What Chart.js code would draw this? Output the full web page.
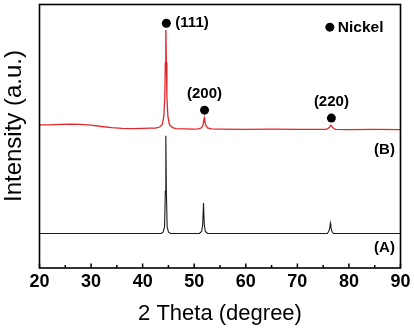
<!DOCTYPE html>
<html>
<head>
<meta charset="utf-8">
<script src="https://cdn.jsdelivr.net/npm/chart.js@4.4.1/dist/chart.umd.min.js"></script>
<style>
  html, body { margin: 0; padding: 0; background: #fff; }
  canvas { display: block; }
</style>
</head>
<body>
<canvas id="xrd" width="414" height="329"></canvas>
<script>
// XRD patterns of sample (B, red, offset upward) and sample (A, black)
const angleB = [20, 22, 24, 26, 28, 30, 32, 34, 36, 38, 40, 41.5, 42.5, 43.3, 43.8, 44.1, 44.3, 44.4, 44.5, 44.6, 44.7, 44.9, 45.2, 45.8, 46.5, 48, 50, 50.8, 51.4, 51.7, 51.85, 51.95, 52.05, 52.25, 52.6, 53.3, 55, 60, 65, 70, 74, 75.6, 76.0, 76.3, 76.5, 76.7, 77.0, 77.4, 80, 85, 90];
const intensityB = [543, 543, 545, 546, 545, 542, 537, 533, 530, 529, 530, 531, 531, 535, 544, 575, 650, 780, 903, 780, 650, 575, 544, 533, 529, 528, 527, 528, 532, 541, 558, 569, 558, 541, 532, 528, 527, 526, 527, 526, 526, 526, 530, 537, 542, 537, 530, 526, 525, 526, 525];

const angleA = [20, 30, 40, 43.6, 44.0, 44.25, 44.4, 44.5, 44.6, 44.75, 45.0, 45.4, 48, 51.0, 51.45, 51.65, 51.8, 51.95, 52.15, 52.6, 60, 70, 75.8, 76.1, 76.3, 76.4, 76.5, 76.7, 77.0, 90];
const intensityA = [131, 131, 131, 131, 137, 157, 292, 502, 292, 157, 137, 131, 131, 131, 139, 165, 247, 165, 139, 131, 131, 131, 131, 139, 154, 169, 154, 139, 131, 131];

// Nickel reflections: marker positions and Miller indices
const peakLabels = ['(111)', '(200)', '(220)'];
const peakAngles = [44.6, 52.0, 76.6];
const peakMarks = [929, 599, 569];

// legend marker
const legendAngle = 76.3;
const legendLevel = 914;
const legendText = 'Nickel';

const sampleLabels = ['(B)', '(A)'];
const sampleLevels = [448, 75];

const xTicks = [20, 30, 40, 50, 60, 70, 80, 90];

const toPoints = (xs, ys) => xs.map((x, i) => ({ x: x, y: ys[i] }));

const FONT = '"Liberation Sans", Arial, sans-serif';

const decorations = {
  id: 'decorations',
  afterDraw(chart) {
    const { ctx, chartArea: a, scales: { x, y } } = chart;
    ctx.save();

    // axis tick marks, pointing inward from the bottom axis
    ctx.strokeStyle = '#000';
    ctx.lineWidth = 1.5;
    ctx.beginPath();
    for (let v = xTicks[0]; v <= xTicks[xTicks.length - 1]; v += 5) {
      const px = x.getPixelForValue(v);
      const len = v % 10 === 0 ? 4.5 : 3;
      ctx.moveTo(px, a.bottom);
      ctx.lineTo(px, a.bottom - len);
    }
    ctx.stroke();

    // frame
    ctx.lineWidth = 1.6;
    ctx.strokeRect(a.left, a.top, a.right - a.left, a.bottom - a.top);

    ctx.fillStyle = '#000';
    ctx.textBaseline = 'middle';

    // Miller indices next to markers
    ctx.font = 'bold 15px ' + FONT;
    ctx.textAlign = 'left';
    ctx.fillText(peakLabels[0], x.getPixelForValue(peakAngles[0]) + 9, y.getPixelForValue(peakMarks[0]));
    ctx.textAlign = 'center';
    ctx.fillText(peakLabels[1], x.getPixelForValue(peakAngles[1]), y.getPixelForValue(peakMarks[1]) - 16);
    ctx.fillText(peakLabels[2], x.getPixelForValue(peakAngles[2]), y.getPixelForValue(peakMarks[2]) - 16);

    // legend text
    ctx.font = 'bold 15.5px ' + FONT;
    ctx.textAlign = 'left';
    ctx.fillText(legendText, x.getPixelForValue(legendAngle) + 8, y.getPixelForValue(legendLevel) + 1);

    // sample tags
    ctx.font = 'bold 15px ' + FONT;
    ctx.textAlign = 'center';
    ctx.fillText(sampleLabels[0], a.right - 16, y.getPixelForValue(sampleLevels[0]));
    ctx.fillText(sampleLabels[1], a.right - 16, y.getPixelForValue(sampleLevels[1]));

    // y axis title
    ctx.translate(14.5, 126);
    ctx.rotate(-Math.PI / 2);
    ctx.font = '24px ' + FONT;
    ctx.textAlign = 'center';
    ctx.fillText('Intensity (a.u.)', 0, 0);

    ctx.restore();
  }
};

new Chart(document.getElementById('xrd'), {
  type: 'scatter',
  data: {
    datasets: [
      {
        label: 'B',
        data: toPoints(angleB, intensityB),
        showLine: true,
        borderColor: '#e3262c',
        borderWidth: 1.3,
        pointRadius: 0,
        tension: 0
      },
      {
        label: 'A',
        data: toPoints(angleA, intensityA),
        showLine: true,
        borderColor: '#1c1c1c',
        borderWidth: 1.1,
        pointRadius: 0,
        tension: 0
      },
      {
        label: 'Nickel',
        data: toPoints(peakAngles.concat([legendAngle]), peakMarks.concat([legendLevel])),
        showLine: false,
        pointRadius: 4.5,
        pointBackgroundColor: '#000',
        pointBorderWidth: 0,
        clip: false
      }
    ]
  },
  options: {
    responsive: false,
    animation: false,
    devicePixelRatio: 1,
    layout: { padding: { left: 39.5, right: 11, top: 1, bottom: 0 } },
    plugins: {
      legend: { display: false },
      tooltip: { enabled: false }
    },
    scales: {
      x: {
        type: 'linear',
        min: 20,
        max: 90,
        afterFit: (s) => { s.height = 61; },
        afterBuildTicks: (s) => { s.ticks = xTicks.map(v => ({ value: v })); },
        grid: { display: false, drawTicks: false },
        border: { display: false },
        ticks: {
          padding: 3.5,
          color: '#000',
          font: { family: FONT, size: 18, weight: 'bold' },
          maxRotation: 0
        },
        title: {
          display: true,
          text: '2 Theta (degree)',
          color: '#000',
          font: { family: FONT, size: 22 },
          padding: { top: 0, bottom: 2 }
        }
      },
      y: {
        type: 'linear',
        min: 0,
        max: 1000,
        display: false
      }
    }
  },
  plugins: [decorations]
});
</script>
</body>
</html>
